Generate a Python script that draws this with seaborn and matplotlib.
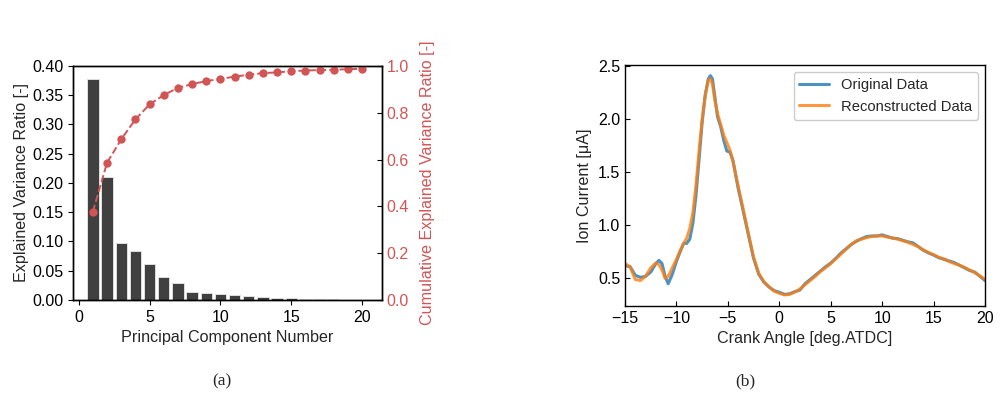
import numpy as np
import pandas as pd
import seaborn as sns
import matplotlib.pyplot as plt

# (a) PCA explained variance
component = list(range(1, 21))
explained_ratio = [0.377, 0.2105, 0.098, 0.083, 0.062, 0.0393, 0.0296, 0.0142, 0.0125, 0.0097,
                   0.0085, 0.0074, 0.0051, 0.004, 0.003, 0.0017, 0.0012, 0.001, 0.0008, 0.0006]
cumulative_ratio = [0.377, 0.586, 0.686, 0.771, 0.835, 0.875, 0.906, 0.922, 0.935, 0.944,
                    0.954, 0.962, 0.969, 0.972, 0.977, 0.980, 0.982, 0.983, 0.986, 0.987]

# (b) ion current, original vs reconstructed
crank_angle = [-15, -14.5, -14, -13.5, -13, -12.5, -12, -11.7, -11.4, -11.1, -10.8, -10.4, -10,
               -9.6, -9.3, -9.0, -8.7, -8.4, -8.1, -7.8, -7.5, -7.2, -6.9, -6.7, -6.5, -6.25,
               -6.0, -5.7, -5.4, -5.1, -4.8, -4.5, -4.0, -3.5, -3.0, -2.5, -2.0, -1.5, -1.0,
               -0.5, 0, 0.5, 1.0, 1.5, 2.0, 2.5, 3.0, 3.5, 4, 4.5, 5, 5.5, 6, 6.5, 7, 7.5, 8,
               8.5, 9, 9.5, 10, 10.5, 11, 11.5, 12, 12.5, 13, 13.5, 14, 14.5, 15, 15.5, 16,
               16.5, 17, 17.5, 18, 18.5, 19, 19.5, 20]
original = [0.62, 0.61, 0.53, 0.51, 0.52, 0.56, 0.64, 0.67, 0.64, 0.52, 0.45, 0.54, 0.66,
            0.76, 0.83, 0.83, 0.87, 1.02, 1.28, 1.62, 1.97, 2.23, 2.38, 2.41, 2.38, 2.20,
            2.02, 1.93, 1.80, 1.70, 1.69, 1.61, 1.35, 1.13, 0.91, 0.69, 0.54, 0.465, 0.42,
            0.385, 0.37, 0.35, 0.355, 0.375, 0.39, 0.45, 0.49, 0.53, 0.57, 0.61, 0.645, 0.69,
            0.74, 0.78, 0.82, 0.85, 0.875, 0.895, 0.90, 0.90, 0.91, 0.895, 0.88, 0.875, 0.86,
            0.845, 0.835, 0.80, 0.765, 0.74, 0.72, 0.695, 0.68, 0.665, 0.65, 0.625, 0.60,
            0.575, 0.56, 0.52, 0.48]
reconstructed = [0.64, 0.61, 0.49, 0.48, 0.52, 0.60, 0.645, 0.63, 0.58, 0.50, 0.52, 0.60, 0.68,
                 0.77, 0.83, 0.88, 0.97, 1.12, 1.38, 1.70, 2.00, 2.22, 2.37, 2.38, 2.33, 2.17,
                 2.05, 1.95, 1.85, 1.78, 1.71, 1.60, 1.37, 1.15, 0.92, 0.70, 0.55, 0.47, 0.42,
                 0.38, 0.36, 0.345, 0.35, 0.37, 0.40, 0.44, 0.48, 0.52, 0.565, 0.60, 0.64, 0.685,
                 0.73, 0.775, 0.82, 0.855, 0.87, 0.885, 0.895, 0.90, 0.90, 0.89, 0.88, 0.87, 0.855,
                 0.84, 0.82, 0.80, 0.77, 0.745, 0.725, 0.70, 0.685, 0.66, 0.64, 0.625, 0.605,
                 0.58, 0.555, 0.525, 0.49]

sns.set_style('ticks')
plt.rcParams['font.family'] = ['Liberation Sans', 'DejaVu Sans']
plt.rcParams['font.size'] = 11.5

red = '#d25555'
tick_fs = 11.5
label_fs = 11.6

fig = plt.figure(figsize=(10, 3.99), dpi=100)
ax1 = fig.add_axes([0.073, 0.248, 0.309, 0.587])
ax2 = fig.add_axes([0.625, 0.233, 0.360, 0.604])

pca = pd.DataFrame({'n': component, 'ratio': explained_ratio, 'cum': cumulative_ratio})
sns.barplot(data=pca, x='n', y='ratio', native_scale=True, width=0.8, color='#404040',
            saturation=1, edgecolor='#e8e8e8', linewidth=0.6, errorbar=None, ax=ax1)
ax1.set_xlim(-0.4, 21.4)
ax1.set_ylim(0, 0.40)
ax1.set_yticks(np.arange(0, 0.41, 0.05))
ax1.set_xlabel('Principal Component Number', fontsize=label_fs)
ax1.set_ylabel('Explained Variance Ratio [-]', fontsize=label_fs, labelpad=2.5)
ax1.tick_params(direction='out', length=3.5, colors='black', labelsize=tick_fs)

ax1b = ax1.twinx()
sns.lineplot(data=pca, x='n', y='cum', color=red, linestyle='--', marker='o', markersize=6,
             markeredgewidth=0, linewidth=1.4, ax=ax1b)
ax1b.set_ylim(0, 1.0)
ax1b.set_xlim(-0.4, 21.4)
ax1b.set_ylabel('Cumulative Explained Variance Ratio [-]', color=red, fontsize=label_fs,
                labelpad=8)
ax1b.tick_params(axis='y', direction='in', length=3.5, colors='black', labelcolor=red,
                 labelsize=tick_fs)
for a in (ax1, ax1b):
    for s in a.spines.values():
        s.set_color('black')
        s.set_linewidth(1.0)

ion = pd.DataFrame({'angle': crank_angle, 'orig': original, 'rec': reconstructed})
sns.lineplot(data=ion, x='angle', y='orig', color='#1f77b4', alpha=0.8, linewidth=2.2,
             label='Original Data', ax=ax2)
sns.lineplot(data=ion, x='angle', y='rec', color='#ff7f0e', alpha=0.8, linewidth=2.2,
             label='Reconstructed Data', ax=ax2)
ax2.set_xlim(-15, 20)
ax2.set_ylim(0.24, 2.51)
ax2.set_yticks([0.5, 1.0, 1.5, 2.0, 2.5])
ax2.set_xlabel('Crank Angle [deg.ATDC]', fontsize=label_fs)
ax2.set_ylabel('Ion Current [\u03bcA]', fontsize=label_fs)
ax2.tick_params(direction='in', length=3.5, colors='black', labelsize=tick_fs)
for s in ax2.spines.values():
    s.set_color('black')
    s.set_linewidth(1.0)
ax2.legend(loc='upper right', fontsize=10.6, frameon=True, fancybox=True, framealpha=1,
           edgecolor='#cccccc')

fig.text(0.222, 0.045, '(a)', ha='center', va='center', fontsize=12.5,
         family=['Liberation Serif', 'DejaVu Serif'])
fig.text(0.745, 0.045, '(b)', ha='center', va='center', fontsize=12.5,
         family=['Liberation Serif', 'DejaVu Serif'])

fig.savefig('out.png', dpi=100)
